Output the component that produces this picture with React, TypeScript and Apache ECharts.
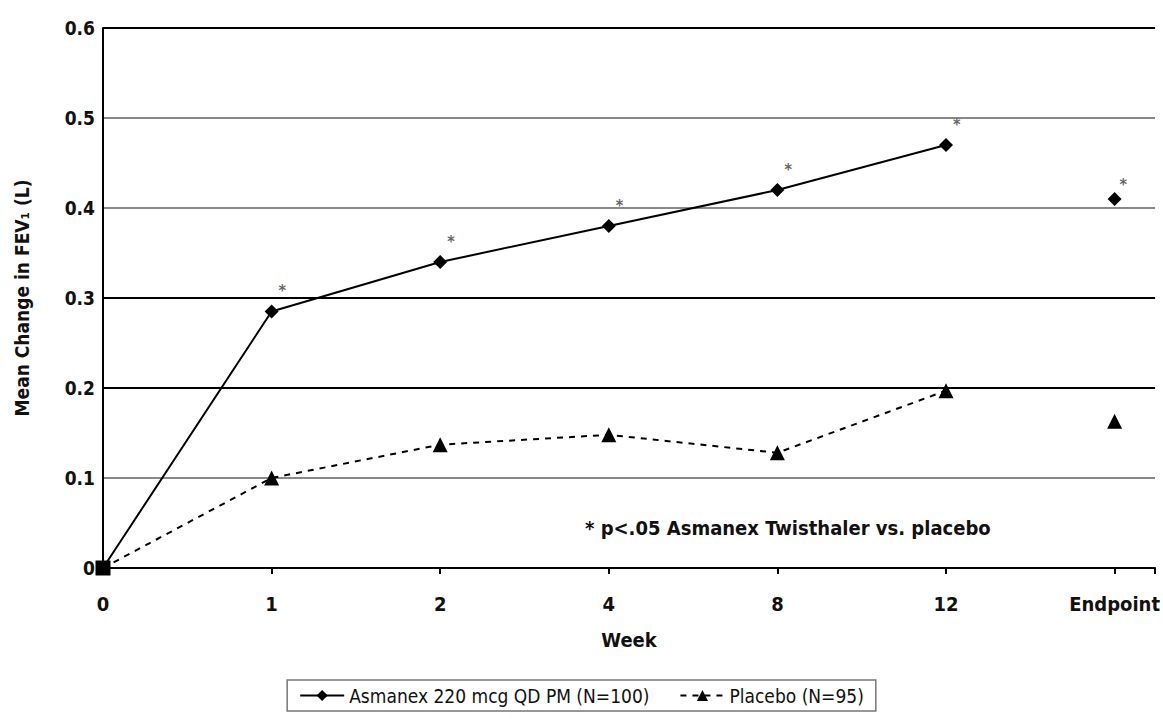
import { useEffect, useRef } from 'react';
import * as echarts from 'echarts';

const weekLabels = ['0', '1', '2', '4', '8', '12', 'Endpoint'];
const asmanexValues = [0, 0.285, 0.34, 0.38, 0.42, 0.47];
const placeboValues = [0, 0.1, 0.137, 0.148, 0.128, 0.197];
const asmanexEndpoint = 0.41;
const placeboEndpoint = 0.163;
const significant = [false, true, true, true, true, true];

const font = '"Liberation Sans Narrow", "DejaVu Sans Condensed", sans-serif';

export default function App() {
  const ref = useRef<HTMLDivElement | null>(null);

  useEffect(() => {
    document.body.style.margin = '0';
    if (!ref.current) return;
    const chart = echarts.init(ref.current, null, { renderer: 'svg' });
    const star = { show: true, formatter: '*', position: [14, -22], fontSize: 16, color: '#666', fontFamily: font };
    chart.setOption({
      animation: false,
      textStyle: { fontFamily: font, fontWeight: 'bold' },
      grid: { left: 103, right: 0, top: 28, bottom: 151 },
      xAxis: {
        type: 'value', min: 0, max: 6.24, interval: 1,
        name: 'Week', nameLocation: 'middle', nameGap: 62,
        nameTextStyle: { fontSize: 20, fontWeight: 'bold', color: '#111', fontFamily: font },
        axisLine: { lineStyle: { color: '#000', width: 2 } },
        axisTick: { show: true, length: 6, lineStyle: { color: '#000', width: 2 } },
        splitLine: { show: false },
        axisLabel: {
          fontSize: 20, color: '#111', fontWeight: 'bold', margin: 26, fontFamily: font,
          formatter: (v: number) => (Number.isInteger(v) ? weekLabels[v] ?? '' : ''),
        },
      },
      yAxis: {
        type: 'value', min: 0, max: 0.6, interval: 0.1,
        name: 'Mean Change in FEV\u2081 (L)', nameLocation: 'middle', nameGap: 72,
        nameTextStyle: { fontSize: 19, fontWeight: 'bold', color: '#111', fontFamily: font },
        axisLine: { show: true, lineStyle: { color: '#000', width: 2 } },
        axisTick: { show: false },
        axisLabel: {
          fontSize: 19, color: '#111', fontWeight: 'bold', margin: 8, fontFamily: font,
          formatter: (v: number) => (v === 0 ? '0' : v.toFixed(1)),
        },
        splitLine: {
          show: true,
          lineStyle: { width: 2, color: ['#000', '#888', '#000', '#000', '#888', '#888', '#000'] },
        },
      },
      legend: {
        bottom: 8, left: 'center', itemWidth: 44, itemGap: 30,
        borderColor: '#777', borderWidth: 1.5, padding: [6, 12],
        textStyle: { fontSize: 19, color: '#111', fontWeight: 'normal', fontFamily: font },
        data: ['Asmanex 220 mcg QD PM (N=100)', 'Placebo (N=95)'],
      },
      graphic: [{
        type: 'text', left: 585, top: 518,
        style: { text: '* p<.05 Asmanex Twisthaler vs. placebo', fontSize: 20, fontWeight: 'bold', fill: '#111', fontFamily: font },
      }],
      series: [
        {
          name: 'Asmanex 220 mcg QD PM (N=100)', type: 'line',
          symbol: 'diamond', symbolSize: 14,
          lineStyle: { color: '#000', width: 2 }, itemStyle: { color: '#000' },
          data: asmanexValues.map((v, i) => ({
            value: [i, v],
            symbol: i === 0 ? 'rect' : 'diamond',
            label: significant[i] ? star : { show: false },
          })),
        },
        {
          name: 'Placebo (N=95)', type: 'line',
          symbol: 'triangle', symbolSize: 15,
          lineStyle: { color: '#000', width: 2, type: [6, 6] }, itemStyle: { color: '#000' },
          data: placeboValues.map((v, i) => ({ value: [i, v], symbol: i === 0 ? 'rect' : 'triangle' })),
        },
        {
          name: 'Asmanex 220 mcg QD PM (N=100)', type: 'scatter', symbol: 'diamond', symbolSize: 14,
          itemStyle: { color: '#000', opacity: 1 },
          data: [{ value: [6, asmanexEndpoint], label: { ...star, position: [12, -16] } }],
        },
        {
          name: 'Placebo (N=95)', type: 'scatter', symbol: 'triangle', symbolSize: 15,
          itemStyle: { color: '#000', opacity: 1 },
          data: [[6, placeboEndpoint]],
        },
      ],
    });
    return () => chart.dispose();
  }, []);

  return <div ref={ref} style={{ width: 1163, height: 719 }} />;
}
